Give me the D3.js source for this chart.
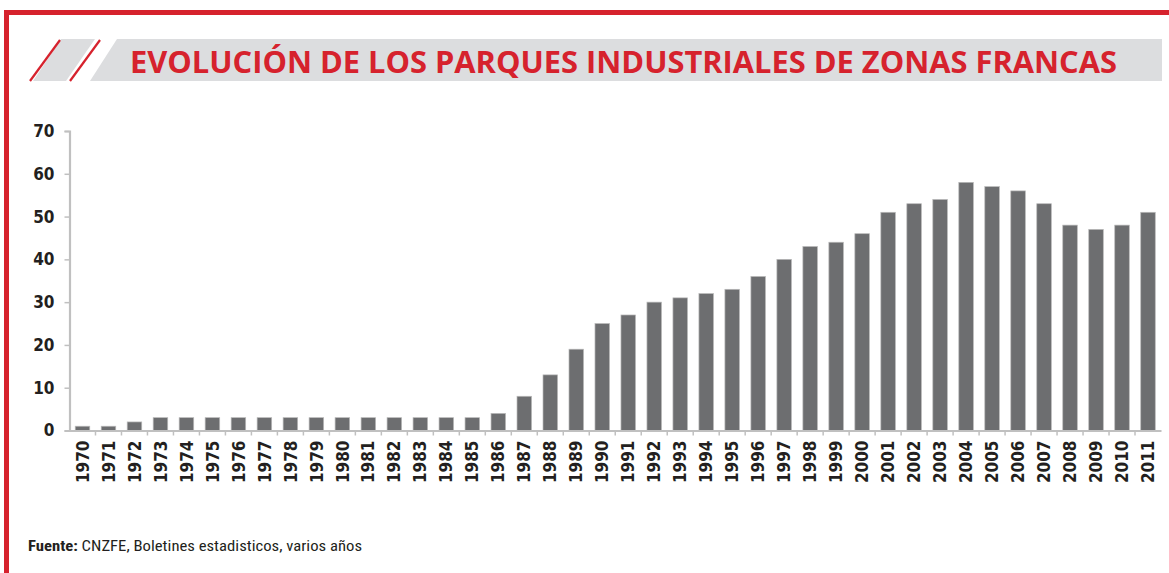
<!DOCTYPE html>
<html>
<head>
<meta charset="utf-8">
<script src="https://cdn.jsdelivr.net/npm/d3@7"></script>
<style>
  html, body { margin: 0; padding: 0; background: #fff; }
  svg { display: block; }
  .tick text { font-family: "DejaVu Sans Condensed", "DejaVu Sans", sans-serif; font-weight: bold; fill: #231f20; }
</style>
</head>
<body>
<div id="chart"></div>
<script>
(function(){
  // datos: número de parques industriales de zonas francas por año
  const years = d3.range(1970, 2012).map(String);
  const parks = [1, 1, 2, 3, 3, 3, 3, 3, 3, 3, 3, 3, 3, 3, 3, 3, 4, 8, 13, 19, 25, 27,
                 30, 31, 32, 33, 36, 40, 43, 44, 46, 51, 53, 54, 58, 57, 56, 53, 48, 47, 48, 51];
  const yTicks = [0, 10, 20, 30, 40, 50, 60, 70];

  const titleText = "EVOLUCIÓN DE LOS PARQUES INDUSTRIALES DE ZONAS FRANCAS";
  const sourceLabel = "Fuente:";
  const sourceText = " CNZFE, Boletines estadisticos, varios años";

  const width = 1169;
  const height = 573;
  const red = "#d6222d";
  const axisGrey = "#c0c0c0";

  const svg = d3.select("#chart")
    .append("svg")
    .attr("width", width)
    .attr("height", height);

  // marco rojo (arriba e izquierda)
  svg.append("rect").attr("x", 4).attr("y", 10).attr("width", width - 4).attr("height", 5).attr("fill", red);
  svg.append("rect").attr("x", 4).attr("y", 10).attr("width", 5).attr("height", height - 10).attr("fill", red);

  // banda del título
  const banner = svg.append("g");
  banner.append("polygon")
    .attr("points", "61,39 95,39 66,81 33,81")
    .attr("fill", "#dcdddf");
  banner.append("line")
    .attr("x1", 60).attr("y1", 40).attr("x2", 30).attr("y2", 81)
    .attr("stroke", red).attr("stroke-width", 2.2);
  banner.append("line")
    .attr("x1", 100).attr("y1", 40).attr("x2", 70).attr("y2", 81)
    .attr("stroke", red).attr("stroke-width", 2.2);
  banner.append("polygon")
    .attr("points", "117,39 1162,39 1162,81 90,81")
    .attr("fill", "#dcdddf");
  banner.append("text")
    .attr("x", 130)
    .attr("y", 73)
    .attr("textLength", 987)
    .attr("lengthAdjust", "spacingAndGlyphs")
    .style("font-family", "'Open Sans', 'Noto Sans', sans-serif")
    .style("font-weight", "bold")
    .style("font-size", "30px")
    .style("fill", red)
    .text(titleText);

  // escalas
  const x = d3.scaleBand()
    .domain(years)
    .range([69.5, 1161])
    .paddingInner(0.44)
    .paddingOuter(0.22);

  const y = d3.scaleLinear()
    .domain([0, 70])
    .range([430.5, 131]);

  // barras
  svg.append("g")
    .selectAll("rect")
    .data(parks)
    .enter().append("rect")
    .attr("x", (d, i) => x(years[i]))
    .attr("y", d => y(d))
    .attr("width", x.bandwidth())
    .attr("height", d => y(0) - y(d))
    .attr("fill", "#6d6e70")
    .attr("stroke", "#b9b9b9")
    .attr("stroke-width", 0.7);

  // eje Y
  const yAxis = svg.append("g")
    .attr("transform", "translate(69.5,0)")
    .call(d3.axisLeft(y).tickValues(yTicks).tickSize(5).tickPadding(10));
  yAxis.select(".domain").attr("stroke", axisGrey).attr("stroke-width", 2.2);
  yAxis.selectAll(".tick line").attr("stroke", axisGrey).attr("stroke-width", 1.5);
  yAxis.selectAll(".tick text").style("font-size", "17px");

  // eje X
  const xAxis = svg.append("g")
    .attr("transform", "translate(0," + y(0) + ")")
    .call(d3.axisBottom(x).tickSize(0).tickPadding(0));
  xAxis.select(".domain").attr("stroke", axisGrey).attr("stroke-width", 2.2);
  xAxis.selectAll(".tick text")
    .attr("transform", "rotate(-90)")
    .attr("x", -10)
    .attr("y", 0)
    .attr("dy", "0.36em")
    .attr("text-anchor", "end")
    .style("font-size", "17px");

  // marcas entre categorías
  const step = x.step();
  const boundaries = years.slice(1).map(yr => x(yr) - (step - x.bandwidth()) / 2);
  svg.append("g")
    .selectAll("line")
    .data(boundaries)
    .enter().append("line")
    .attr("x1", d => d).attr("x2", d => d)
    .attr("y1", y(0)).attr("y2", y(0) + 5)
    .attr("stroke", axisGrey)
    .attr("stroke-width", 1.5);

  // fuente
  const src = svg.append("text")
    .attr("x", 28)
    .attr("y", 551)
    .attr("textLength", 334)
    .attr("lengthAdjust", "spacingAndGlyphs")
    .style("font-family", "'Liberation Sans Narrow', 'Roboto Condensed', Roboto, sans-serif")
    .style("font-size", "15px")
    .style("fill", "#231f20");
  src.append("tspan").style("font-weight", "bold").text(sourceLabel);
  src.append("tspan").text(sourceText);
})();
</script>
</body>
</html>
